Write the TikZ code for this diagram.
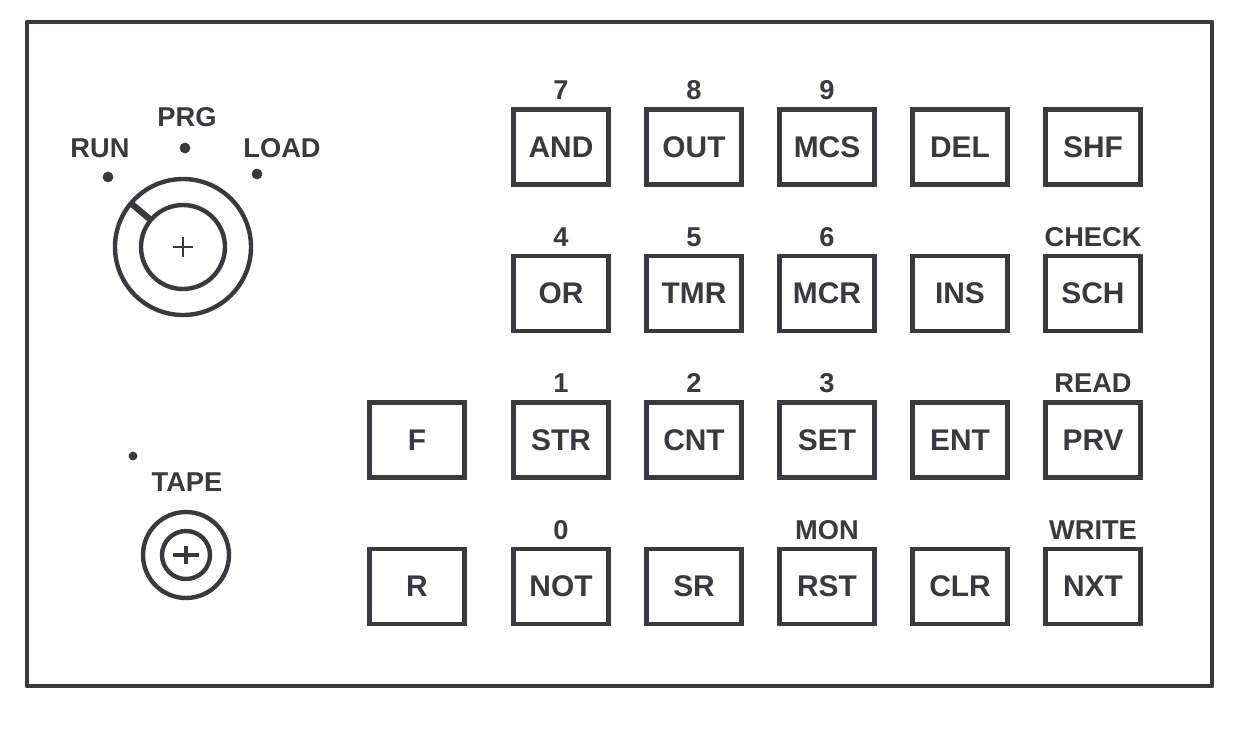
\documentclass[tikz,border=0pt]{standalone}
\usepackage{fontspec}
\setmainfont{Liberation Sans}
\usepackage{tikz}
\usetikzlibrary{calc}
\definecolor{inchiostro}{RGB}{58,58,62}
\tikzset{
node distance=2.66cm,
tasto/.style={draw=inchiostro,line width=2.6pt,minimum width=1.9cm,minimum height=1.5cm,inner sep=0pt,text=inchiostro,font=\bfseries\fontsize{17}{17}\selectfont},
etichetta/.style={inner sep=4pt,text=inchiostro,font=\bfseries\fontsize{15.5}{15.5}\selectfont},
ghiera/.style={draw=inchiostro,line width=2.5pt},
spia/.style={fill=inchiostro,draw=inchiostro}}

\begin{document}
\begin{tikzpicture}[every label/.style={etichetta},label distance=0pt]

\useasboundingbox (0,0) rectangle (24.8,-14.6);
\draw[inchiostro,line width=2.8pt,line join=round] (0.54,-0.44) rectangle (24.24,-13.72);

% selettore RUN / PRG / LOAD
      \coordinate (sel) at (3.66,-4.94);
      \draw[ghiera] (sel) circle (1.36) (sel) circle (0.84);
      \draw[inchiostro,line width=3.6pt] ([shift={(140:0.84)}]sel) -- ([shift={(140:1.36)}]sel);
      \draw[inchiostro,line width=1.6pt] ([xshift=-0.2cm]sel) -- ([xshift=0.2cm]sel)
            ([yshift=-0.2cm]sel) -- ([yshift=0.2cm]sel);

      \filldraw[spia] (2.16,-3.54) circle (0.1);
      \filldraw[spia] (3.70,-2.96) circle (0.1);
      \filldraw[spia] (5.14,-3.48) circle (0.1);
      \node[etichetta] (run) at (2.00,-2.96) {RUN};
      \node[etichetta] (prg) at (3.74,-2.34) {PRG};
      \node[etichetta] (load) at (5.64,-2.96) {LOAD};

% presa TAPE
      \coordinate (tape) at (3.72,-11.1);
      \draw[ghiera] (tape) circle (0.86) (tape) circle (0.48);
      \draw[inchiostro,line width=2pt] ([xshift=-0.26cm]tape) -- ([xshift=0.26cm]tape)
            ([yshift=-0.18cm]tape) -- ([yshift=0.18cm]tape);
      \filldraw[spia] (2.66,-9.12) circle (0.08);
      \node[etichetta] (tapelab) at (3.74,-9.64) {TAPE};

% tastiera
      \node[tasto,label=above:7] (and) at (11.22,-2.94) {AND};
      \node[tasto,label=above:8,right of=and] (out) {OUT};
      \node[tasto,label=above:9,right of=out] (mcs) {MCS};
      \node[tasto,right of=mcs] (del) {DEL};
      \node[tasto,right of=del] (shf) {SHF};

      \node[tasto,label=above:4,below of=and,node distance=2.93cm] (or) {OR};
      \node[tasto,label=above:5,right of=or] (tmr) {TMR};
      \node[tasto,label=above:6,right of=tmr] (mcr) {MCR};
      \node[tasto,right of=mcr] (ins) {INS};
      \node[tasto,label=above:CHECK,right of=ins] (sch) {SCH};

      \node[tasto,label=above:1,below of=or,node distance=2.93cm] (str) {STR};
      \node[tasto,label=above:2,right of=str] (cnt) {CNT};
      \node[tasto,label=above:3,right of=cnt] (set) {SET};
      \node[tasto,right of=set] (ent) {ENT};
      \node[tasto,label=above:READ,right of=ent] (prv) {PRV};
      \node[tasto,left of=str,node distance=2.88cm] (f) {F};

      \node[tasto,label=above:0,below of=str,node distance=2.93cm] (not) {NOT};
      \node[tasto,right of=not] (sr) {SR};
      \node[tasto,label=above:MON,right of=sr] (rst) {RST};
      \node[tasto,right of=rst] (clr) {CLR};
      \node[tasto,label=above:WRITE,right of=clr] (nxt) {NXT};
      \node[tasto,left of=not,node distance=2.88cm] (r) {R};
\end{tikzpicture}
\end{document}
